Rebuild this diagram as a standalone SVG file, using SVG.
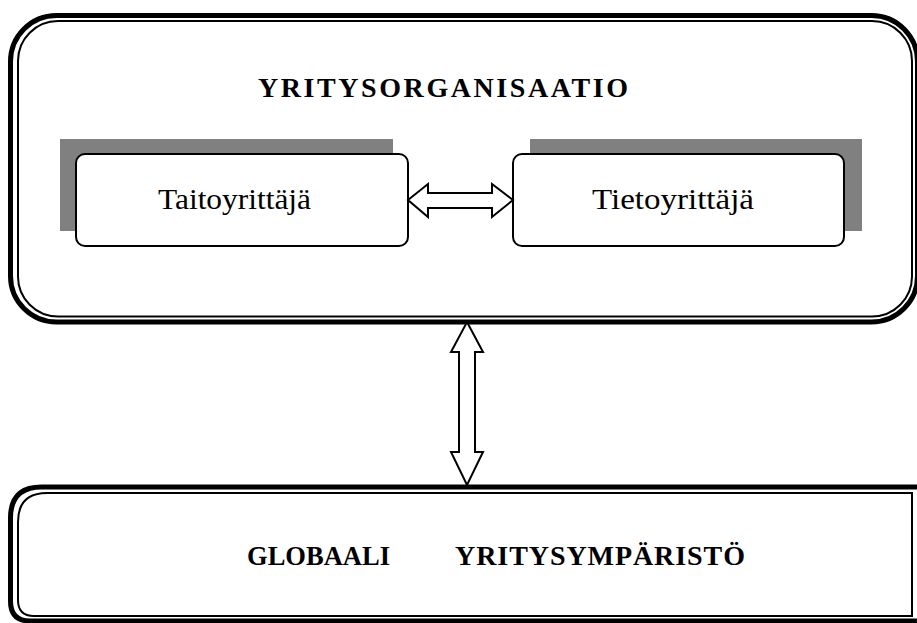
<svg xmlns="http://www.w3.org/2000/svg" width="917" height="623" viewBox="0 0 917 623">
  <style>
    .outer { fill: none; stroke: #000; stroke-width: 5; }
    .inner { fill: none; stroke: #000; stroke-width: 2; }
    .shadow { fill: #808080; }
    .card { fill: #fff; stroke: #000; stroke-width: 2; }
    .arrow { fill: #fff; stroke: #000; stroke-width: 2; stroke-linejoin: miter; }
    .title { font-family: "Liberation Serif", "Times New Roman", serif; font-weight: bold; font-size: 28px; fill: #000; }
    .label { font-family: "Liberation Serif", "Times New Roman", serif; font-size: 30px; fill: #000; }
  </style>
  <rect width="917" height="623" fill="#fff"/>

  <!-- organisation frame with double border -->
  <g id="organisation">
    <rect class="outer" x="10.5" y="15.5" width="907" height="306.5" rx="46" ry="46"/>
    <rect class="inner" x="18" y="21" width="894" height="295.5" rx="40" ry="40"/>
    <text class="title" x="258" y="97" textLength="370" lengthAdjust="spacing">YRITYSORGANISAATIO</text>
  </g>

  <!-- skill entrepreneur card -->
  <g id="taitoyrittaja">
    <rect class="shadow" x="60" y="139" width="333" height="92"/>
    <rect class="card" x="76" y="154" width="332" height="92" rx="9" ry="9"/>
    <text class="label" x="158" y="209" textLength="153" lengthAdjust="spacingAndGlyphs">Taitoyrittäjä</text>
  </g>

  <!-- knowledge entrepreneur card -->
  <g id="tietoyrittaja">
    <rect class="shadow" x="530" y="139" width="332" height="92"/>
    <rect class="card" x="513" y="154" width="331" height="92" rx="9" ry="9"/>
    <text class="label" x="592" y="209" textLength="162" lengthAdjust="spacingAndGlyphs">Tietoyrittäjä</text>
  </g>

  <!-- global environment frame -->
  <g id="ymparisto">
    <path class="outer" d="M10.5,518 Q10.5,487 41.5,487 H930 V621 H30 Q10.5,621 10.5,601 Z"/>
    <path class="inner" d="M18,522 Q18,493 47,493 H912 V616 H34 Q18,616 18,600 Z"/>
    <text class="title" x="247" y="565" textLength="143" lengthAdjust="spacingAndGlyphs">GLOBAALI</text>
    <text class="title" x="455" y="565" textLength="290" lengthAdjust="spacing">YRITYSYMPÄRISTÖ</text>
  </g>

  <!-- connectors -->
  <g id="connectors">
    <path class="arrow" d="M408,200 L428,184 L428,193 L492,193 L492,184 L513,200 L492,217 L492,208 L428,208 L428,217 Z"/>
    <path class="arrow" d="M467,322 L483,352 L475,352 L475,452 L483,452 L467,485 L451,452 L459,452 L459,352 L451,352 Z"/>
  </g>
</svg>
